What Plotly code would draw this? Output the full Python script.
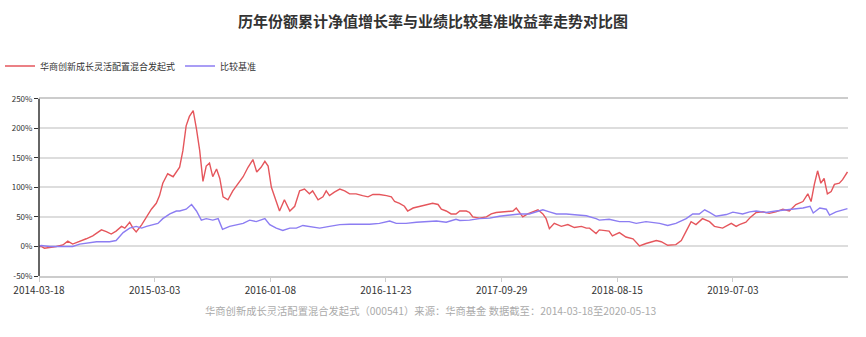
import plotly.graph_objects as go

# trading-day index (0 = 2014-03-18) and cumulative return (%)
fund_day = [0, 4, 10, 20, 32, 44, 53, 62, 75, 87, 99, 115, 124, 133, 142, 152, 158, 167, 173, 179,
            189, 198, 207, 216, 222, 228, 237, 247, 256, 259, 265, 271, 277, 284, 290, 296, 302, 308,
            314, 320, 327, 333, 339, 348, 357, 366, 376, 385, 394, 401, 409, 416, 422, 428, 434, 443,
            452, 462, 471, 480, 489, 498, 504, 514, 523, 529, 535, 544, 554, 563, 572, 584, 596, 606,
            615, 627, 640, 649, 655, 664, 673, 679, 689, 701, 713, 725, 735, 741, 750, 759, 768, 775,
            787, 793, 799, 811, 824, 833, 842, 854, 863, 873, 879, 885, 891, 900, 909, 919, 928, 934,
            940, 949, 962, 974, 986, 999, 1008, 1014, 1026, 1032, 1050, 1056, 1069, 1081, 1094, 1106,
            1118, 1137, 1146, 1158, 1173, 1183, 1192, 1201, 1210, 1222, 1235, 1244, 1259, 1275, 1284,
            1290, 1302, 1311, 1321, 1333, 1345, 1357, 1370, 1382, 1394, 1407, 1416, 1422, 1428, 1434,
            1440, 1446, 1452, 1459, 1465, 1474, 1480, 1489]
fund_val = [0, 0, -3, -2, 0, 2.5, 9, 4, 8, 13, 18, 28, 25, 21, 26, 34, 31, 41, 31, 24.5,
            36.6, 50, 63, 73, 86, 107, 123, 118, 131, 134, 162, 204, 220, 230, 199, 162, 110, 136,
            141, 118, 131, 115, 84, 79, 94, 105, 118, 134, 147, 126, 134, 144, 136, 100, 84, 60,
            79, 60, 68, 94, 97, 89, 94, 79, 84, 94, 86, 92, 97, 94, 89, 89, 86, 84,
            88, 88, 86, 84, 76, 73, 68, 60, 65, 68, 71, 73, 71, 63, 60, 55, 55, 60,
            60, 57.5, 50, 48, 50, 55, 57.5, 58.6, 60, 60, 65, 57.5, 50, 55, 58.6, 62, 55, 47,
            30, 39, 34, 37, 32, 34, 31, 31, 22, 28, 26, 18, 23.5, 16, 13, 1,
            5, 10, 8, 2, 3, 10, 26, 42, 37, 47, 42, 34, 31, 39, 34,
            37, 41, 50, 57.5, 58.6, 56, 58.6, 63, 60, 71, 76, 89, 76, 105, 128,
            107, 115, 89, 93, 105, 107, 113, 126]

bench_day = [0, 4, 20, 44, 62, 75, 106, 130, 142, 155, 167, 179, 189, 198, 210, 219, 228, 241, 253,
             259, 271, 281, 290, 299, 308, 320, 330, 338, 351, 363, 376, 388, 400, 416, 425, 437, 449,
             462, 474, 486, 498, 517, 535, 554, 572, 590, 609, 627, 646, 658, 676, 695, 713, 732, 750,
             768, 775, 793, 811, 830, 848, 866, 885, 903, 916, 928, 940, 953, 971, 989, 1008, 1026,
             1032, 1050, 1069, 1087, 1100, 1118, 1143, 1158, 1173, 1192, 1204, 1216, 1226, 1235, 1247,
             1266, 1278, 1296, 1309, 1321, 1339, 1357, 1376, 1394, 1407, 1420, 1426, 1438, 1450, 1456,
             1468, 1489]
bench_val = [0, 1.5, 0, 0, 0, 4, 8, 8, 10, 23.5, 31, 34, 31, 34, 37, 39, 47, 55, 60,
             60, 63, 71, 60, 44.5, 47, 44.5, 47, 29, 34, 37, 39, 44.5, 42, 47, 37, 31, 27,
             31, 31, 35.5, 34, 31, 34, 37, 37.5, 37, 37.5, 39, 43, 39, 39, 41, 42, 43, 41,
             46, 44, 44.5, 47, 48, 51, 53, 55, 55, 58.6, 62, 58.6, 55, 55, 53, 52, 47,
             44.5, 46, 42, 42, 39, 42, 39, 35.5, 39, 47, 55, 55, 62, 57.5, 51,
             54, 58, 55, 58.6, 60, 57.5, 60, 62, 63, 65, 68, 56.6, 65, 63, 53,
             58.6, 64]

tick_days = [0, 213, 426, 639, 852, 1065, 1278]
tick_labels = ["2014-03-18", "2015-03-03", "2016-01-08", "2016-11-23", "2017-09-29", "2018-08-15", "2019-07-03"]
y_ticks = [-50, 0, 50, 100, 150, 200, 250]

fund_name = "华商创新成长灵活配置混合发起式"
bench_name = "比较基准"
title = "历年份额累计净值增长率与业绩比较基准收益率走势对比图"
footer = "华商创新成长灵活配置混合发起式（000541）来源：华商基金 数据截至：2014-03-18至2020-05-13"

RED = "#e5565c"
PURPLE = "#8c7df2"
FONT = "Noto Sans CJK SC"

fig = go.Figure()
fig.add_trace(go.Scatter(x=fund_day, y=fund_val, name=fund_name, mode="lines",
                         line=dict(color=RED, width=1.4)))
fig.add_trace(go.Scatter(x=bench_day, y=bench_val, name=bench_name, mode="lines",
                         line=dict(color=PURPLE, width=1.4)))

fig.update_layout(
    width=866, height=337,
    margin=dict(l=39, r=18, t=85, b=61),
    paper_bgcolor="white", plot_bgcolor="white",
    font=dict(family=FONT, size=9, color="#333"),
    title=dict(text="<b>" + title + "</b>", x=0.5, xanchor="center", xref="container",
               y=1 - 22 / 337, yanchor="middle", yref="container",
               font=dict(size=15, color="#333", family=FONT)),
    legend=dict(orientation="h", x=-0.008, xanchor="left", xref="container",
                y=1 - 66 / 337, yanchor="middle", yref="container",
                font=dict(size=9, color="#333"), itemwidth=30, tracegroupgap=0,
                bgcolor="rgba(0,0,0,0)"),
    showlegend=True,
    annotations=[dict(text=footer, xref="paper", yref="paper", x=0.485, xanchor="center",
                      y=-0.194, yanchor="middle", showarrow=False,
                      font=dict(size=10.3, color="#aaa", family=FONT))],
)
fig.update_xaxes(range=[0, 1490], tickmode="array", tickvals=tick_days, ticktext=tick_labels,
                 showgrid=False, zeroline=False, showline=True, linecolor="#ccc", linewidth=1.5,
                 mirror=True, ticks="outside", ticklen=4, tickcolor="#ccc",
                 tickfont=dict(size=10, color="#333"))
fig.update_yaxes(range=[-50, 250], tickmode="array", tickvals=y_ticks,
                 ticktext=[f"{v}%" for v in y_ticks], showgrid=True, gridcolor="#ddd", gridwidth=1.5,
                 zeroline=False, showline=False, ticks="outside", ticklen=4, tickcolor="#333",
                 tickfont=dict(size=8, color="#333"))
# dark left axis line
fig.add_shape(type="line", xref="paper", yref="paper", x0=0, x1=0, y0=0, y1=1,
              line=dict(color="#333", width=1.5))

fig.write_html("out.html")
